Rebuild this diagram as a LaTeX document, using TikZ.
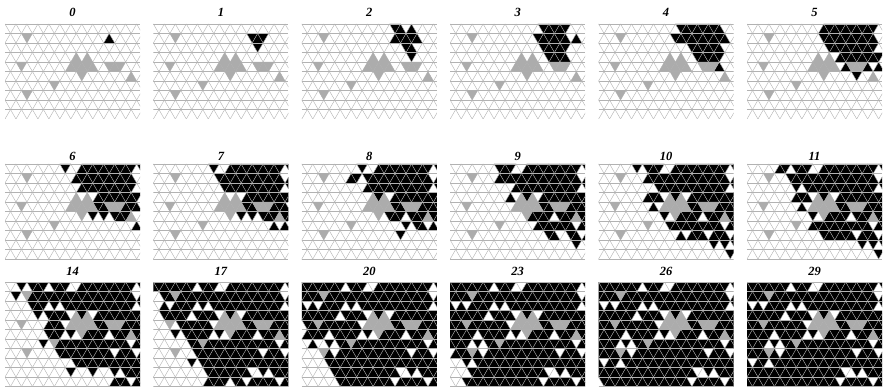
\documentclass[tikz,border=0pt]{standalone}
\usepackage{fontspec}
\setmainfont{Liberation Serif}

\tikzset{
  gridline/.style={draw=gray!60,line width=0.4pt},
  wallcell/.style={fill=gray!65},
  hitcell/.style={fill=black},
  steplabel/.style={font=\fontsize{12.5}{14}\selectfont\bfseries\itshape,inner sep=0pt}
}

\newcommand\cellw{10.97}
\newcommand\cellh{9.5}
% one triangle of the grid: style, row, column (half-base steps)
\newcommand\paintcell[3]{%
  \pgfmathsetmacro\xc{#3*\cellw/2}%
  \pgfmathsetmacro\yt{#2*\cellh}%
  \pgfmathsetmacro\yb{(#2+1)*\cellh}%
  \ifodd\numexpr#2+#3\relax
    \fill[#1] (\xc-\cellw/2,\yt) -- (\xc+\cellw/2,\yt) -- (\xc,\yb) -- cycle;
  \else
    \fill[#1] (\xc-\cellw/2,\yb) -- (\xc+\cellw/2,\yb) -- (\xc,\yt) -- cycle;
  \fi}

\begin{document}
\begin{tikzpicture}[x=1pt,y=-1pt]
  \fill[white] (0,0) rectangle (885,387);
  \useasboundingbox (0,0) rectangle (885,387);

  % blocked cells
  \foreach \ri/\ci in {1/4,4/3,6/9,7/4,3/13,3/15,4/12,4/13,4/14,4/15,4/16,5/14,4/19,4/20,4/21,5/23}
    {\expandafter\gdef\csname wall@\ri @\ci\endcsname{}}

  % arrival step of every cell, seed at row 1, column 19
  \foreach \ri in {0,...,10}{
    \foreach \ci in {0,...,25}{
      \ifodd\numexpr\ri+\ci\relax
        \pgfmathsetmacro\yc{\ri+1/3}
      \else
        \pgfmathsetmacro\yc{\ri+2/3}
      \fi
      \pgfmathsetmacro\da{\ri-1}
      \pgfmathsetmacro\db{floor(\ci/2-\yc/2)-8}
      \pgfmathsetmacro\dc{floor(\ci/2+\yc/2)-10}
      \pgfmathsetmacro\dist{(\da<0 ? 0.6 : 0.6)*abs(\da) + (\db<0 ? 1.3 : 0.85)*abs(\db) + (\dc<0 ? 0.5 : 0.8)*abs(\dc)}
      \pgfmathsetmacro\hone{mod(7*\ci*\ci+11*\ri*\ri+5*\ci*\ri+3*\ci+17*\ri+41,101)/101}
      \pgfmathsetmacro\htwo{mod(13*\ci*\ci+5*\ri*\ri+3*\ci*\ri+29*\ci+7*\ri+11,89)/89}
      \pgfmathsetmacro\arrive{\dist+3*(\hone-0.5)*min(1,max(0,\dist-1.2)/3)+((\htwo<0.09 && \dist>3) ? 100 : 0)}
      \expandafter\xdef\csname arr@\ri @\ci\endcsname{\arrive}
    }
  }

  % panels: step / column / grid top / label y / last row / height
  \foreach \stp/\px/\py/\ly/\lastrow/\ph [count=\k] in {
      0/0/24/12/9/95, 1/1/24/12/9/95, 2/2/24/12/9/95, 3/3/24/12/9/95, 4/4/24/12/9/95, 5/5/24/12/9/95,
      6/0/164/156/9/95, 7/1/164/156/9/95, 8/2/164/156/9/95, 9/3/164/156/9/95, 10/4/164/156/9/95, 11/5/164/156/9/95,
      14/0/282/271/10/105, 17/1/282/271/10/105, 20/2/282/271/10/105, 23/3/282/271/10/105, 26/4/282/271/10/105, 29/5/282/271/10/105}{
    \begin{scope}[shift={(5+148.4*\px,\py)}]
      \clip (0,0) rectangle (135,\ph);
      \foreach \ri in {0,...,\lastrow}{
        \foreach \ci in {0,...,25}{
          \ifcsname wall@\ri @\ci\endcsname\else
            \pgfmathparse{\csname arr@\ri @\ci\endcsname<=\stp+0.05 ? 1 : 0}
            \ifnum\pgfmathresult=1 \paintcell{hitcell}{\ri}{\ci}\fi
          \fi
        }
      }
      \foreach \j in {0,...,11} \draw[gridline] (0,\j*\cellh) -- (135,\j*\cellh);
      \foreach \j in {-6,...,18}{
        \draw[gridline] (\j*\cellw,0) -- ++(5.5*\cellw,11*\cellh);
        \draw[gridline] (\j*\cellw,0) -- ++(-5.5*\cellw,11*\cellh);
      }
      \foreach \ri/\ci in {1/4,4/3,6/9,7/4,3/13,3/15,4/12,4/13,4/14,4/15,4/16,5/14,4/19,4/20,4/21,5/23}
        {\paintcell{wallcell}{\ri}{\ci}}
    \end{scope}
    \node[steplabel] (lab\k) at (5+148.4*\px+67.5,\ly) {\stp};
  }
\end{tikzpicture}
\end{document}
